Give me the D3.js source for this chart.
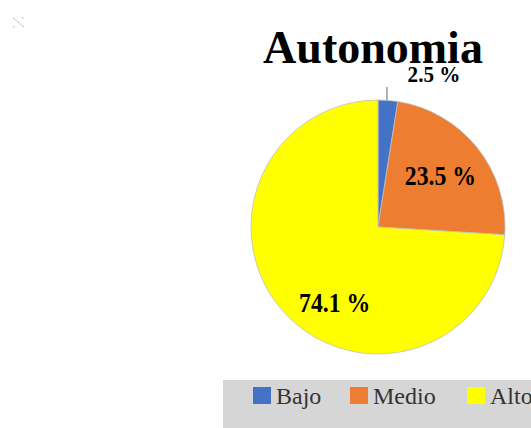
<!DOCTYPE html>
<html>
<head>
<meta charset="utf-8">
<script src="https://cdn.jsdelivr.net/npm/d3@7"></script>
<style>
  body { margin: 0; background: #fff; }
  svg { display: block; }
  svg text { font-family: "Liberation Serif", "Times New Roman", serif; }
</style>
</head>
<body>
<svg width="531" height="428"></svg>
<script>
var categories = ["Bajo", "Medio", "Alto"];
var values = [2.5, 23.5, 74.1];
var colors = ["#4472C4", "#ED7D31", "#FFFF00"];
var labels = ["2.5 %", "23.5 %", "74.1 %"];

var svg = d3.select("svg");
var cx = 378, cy = 227, r = 127;

// little mark in the corner
svg.append("path")
    .attr("d", "M13,18 L24,27 M13,26 L15,28 M22,17 L24,19")
    .attr("stroke", "#aaa")
    .attr("stroke-width", 1)
    .attr("stroke-dasharray", "2,1");

svg.append("text")
    .attr("x", 373).attr("y", 63)
    .attr("text-anchor", "middle")
    .attr("font-size", 46)
    .attr("font-weight", "bold")
    .text("Autonomia");

var pie = d3.pie().sort(null).value(function (d) { return d; });
var arcs = pie(values);
var arc = d3.arc().innerRadius(0).outerRadius(r);

var g = svg.append("g").attr("transform", "translate(" + cx + "," + cy + ")");

g.selectAll("path.slice")
    .data(arcs).enter()
    .append("path")
    .attr("class", "slice")
    .attr("d", arc)
    .attr("fill", function (d, i) { return colors[i]; })
    .attr("stroke", "#bfbfbf")
    .attr("stroke-width", 0.8);

// label positions
var inner = d3.arc().innerRadius(r * 0.63).outerRadius(r * 0.63);
var labelPos = arcs.map(function (d, i) {
    if (i === 0) return [cx + 56, 82];
    var c = inner.centroid(d);
    if (i === 2) return [cx + c[0] + 15, cy + c[1] + 30];
    return [cx + c[0], cy + c[1] + 8];
});

// leader line for the small slice
var a0 = (arcs[0].startAngle + arcs[0].endAngle) / 2;
var ex = cx + Math.sin(a0) * r - 1;
svg.append("line")
    .attr("x1", ex).attr("x2", ex)
    .attr("y1", cy - r).attr("y2", 87)
    .attr("stroke", "#7f7f7f").attr("stroke-width", 1.2);

svg.selectAll("text.lbl")
    .data(labels).enter()
    .append("text")
    .attr("class", "lbl")
    .attr("x", function (d, i) { return labelPos[i][0]; })
    .attr("y", function (d, i) { return labelPos[i][1]; })
    .attr("text-anchor", "middle")
    .attr("font-size", function (d, i) { return i === 0 ? 24 : 27; })
    .attr("font-weight", "bold")
    .attr("transform", function (d, i) {
        var p = labelPos[i];
        return "translate(" + p[0] + "," + p[1] + ") scale(0.88,1) translate(" + (-p[0]) + "," + (-p[1]) + ")";
    })
    .text(function (d) { return d; });

// legend
svg.append("rect")
    .attr("x", 223).attr("y", 380)
    .attr("width", 308).attr("height", 48)
    .attr("fill", "#d6d6d6");

var legendX = d3.scaleOrdinal().domain(categories).range([253, 350, 467]);

var lg = svg.selectAll("g.leg")
    .data(categories).enter()
    .append("g")
    .attr("class", "leg")
    .attr("transform", function (d) { return "translate(" + legendX(d) + ",387)"; });

lg.append("rect")
    .attr("width", 18).attr("height", 17)
    .attr("fill", function (d, i) { return colors[i]; });

lg.append("text")
    .attr("x", 23).attr("y", 17)
    .attr("font-size", 24)
    .attr("font-family", "Liberation Serif, serif")
    .attr("fill", "#333")
    .text(function (d) { return d; });
</script>
</body>
</html>
